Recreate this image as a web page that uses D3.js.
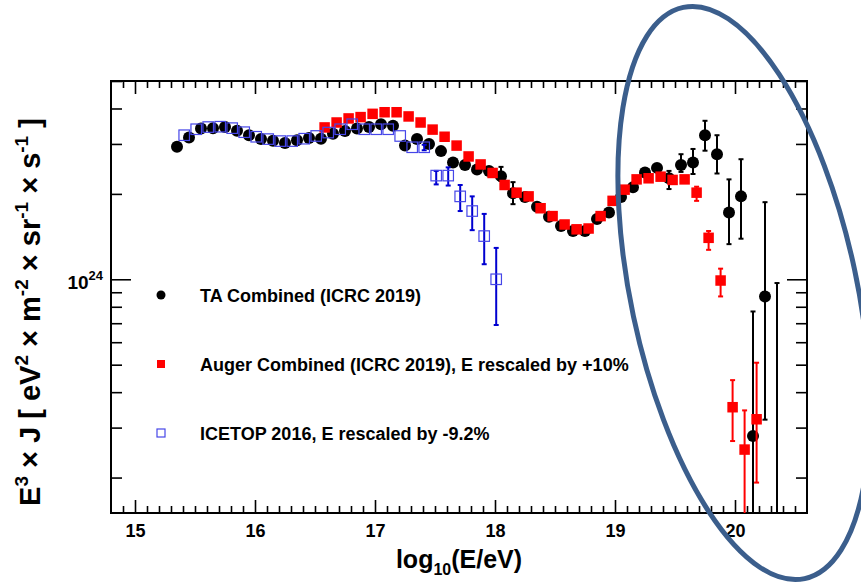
<!DOCTYPE html>
<html lang="en">
<head>
<meta charset="UTF-8">
<title>E3 x J cosmic ray spectrum</title>
<script src="https://d3js.org/d3.v7.min.js"></script>
<style>
    body {
        margin: 0;
        background: #fff;
    }
    svg {
        display: block;
        font-family: "Liberation Sans", Arial, sans-serif;
        font-weight: bold;
    }
</style>
</head>
<body>
<svg id="chart" width="861" height="585"></svg>
<script>
    // values of E^3 x J are in units of 10^24 eV^2 m^-2 sr^-1 s^-1
    const taLogE = [15.35, 15.45, 15.55, 15.65, 15.75, 15.85, 15.95, 16.05, 16.15, 16.25,
        16.35, 16.45, 16.55, 16.65, 16.75, 16.85, 16.95, 17.05, 17.15, 17.25,
        17.35, 17.45, 17.55, 17.65, 17.75, 17.85, 17.95, 18.05, 18.15, 18.25,
        18.35, 18.45, 18.55, 18.65, 18.75, 18.85, 18.95, 19.05, 19.15, 19.25,
        19.35, 19.45, 19.55, 19.65, 19.75, 19.85, 19.95, 20.05, 20.15, 20.25, 20.35];
    const taFlux = [2.93, 3.16, 3.40, 3.41, 3.44, 3.34, 3.22, 3.12, 3.08, 3.02,
        3.09, 3.15, 3.13, 3.26, 3.33, 3.40, 3.44, 3.52, 3.48, 2.96,
        3.12, 3.00, 2.83, 2.58, 2.53, 2.44, 2.41, 2.31, 2.01, 1.95,
        1.80, 1.66, 1.54, 1.48, 1.48, 1.63, 1.72, 1.95, 2.11, 2.38,
        2.47, 2.27, 2.53, 2.58, 3.22, 2.76, 1.72, 1.96, 0.28, 0.87, 0.12];
    // [logE, low, high]
    const taErrors = [
        [18.05, 2.22, 2.49], [18.15, 1.84, 2.20], [19.45, 2.08, 2.41], [19.55, 2.39, 2.76],
        [19.65, 2.35, 2.88], [19.75, 2.84, 3.62], [19.85, 2.36, 3.22], [19.95, 1.33, 2.25],
        [20.05, 1.39, 2.65], [20.15, 0.05, 0.77], [20.25, 0.32, 1.87], [20.35, 0.05, 0.97]
    ];

    const augerLogE = [16.58, 16.68, 16.78, 16.88, 16.98, 17.08, 17.18, 17.28, 17.38, 17.48,
        17.58, 17.68, 17.78, 17.88, 17.98, 18.08, 18.18, 18.28, 18.38, 18.48,
        18.58, 18.68, 18.78, 18.88, 18.98, 19.08, 19.18, 19.28, 19.38, 19.48,
        19.58, 19.68, 19.78, 19.88, 19.98, 20.08, 20.18];
    const augerFlux = [3.43, 3.57, 3.69, 3.73, 3.83, 3.88, 3.88, 3.75, 3.57, 3.37,
        3.18, 2.96, 2.71, 2.54, 2.37, 2.15, 2.02, 1.96, 1.78, 1.67,
        1.56, 1.50, 1.51, 1.67, 1.89, 2.07, 2.25, 2.27, 2.30, 2.24,
        2.25, 2.02, 1.40, 0.99, 0.354, 0.251, 0.321];
    const augerErrors = [
        [19.68, 1.89, 2.12], [19.78, 1.27, 1.48], [19.88, 0.87, 1.09],
        [19.98, 0.269, 0.441], [20.08, 0.05, 0.345], [20.18, 0.192, 0.508]
    ];

    const icetopLogE = [15.41, 15.51, 15.61, 15.71, 15.81, 15.91, 16.01, 16.11, 16.21, 16.31,
        16.41, 16.51, 16.61, 16.71, 16.81, 16.91, 17.01, 17.11, 17.21, 17.31,
        17.41, 17.51, 17.61, 17.71, 17.81, 17.91, 18.01];
    const icetopFlux = [3.22, 3.38, 3.44, 3.45, 3.41, 3.30, 3.18, 3.12, 3.07, 3.07,
        3.13, 3.20, 3.29, 3.38, 3.52, 3.38, 3.38, 3.38, 3.20, 2.92,
        2.92, 2.32, 2.32, 1.96, 1.74, 1.42, 1.00];
    const icetopErrors = [
        [17.41, 2.85, 2.98], [17.51, 2.16, 2.41], [17.61, 2.14, 2.48], [17.71, 1.74, 2.15],
        [17.81, 1.49, 1.96], [17.91, 1.13, 1.70], [18.01, 0.69, 1.29]
    ];

    const xMajorTicks = [15, 16, 17, 18, 19, 20];
    const legendLabels = [
        "TA Combined (ICRC 2019)",
        "Auger Combined (ICRC 2019), E rescaled by +10%",
        "ICETOP 2016, E rescaled by -9.2%"
    ];

    const margin = { top: 81, right: 54, bottom: 72, left: 111 };
    const width = 861 - margin.left - margin.right;
    const height = 585 - margin.top - margin.bottom;

    const svg = d3.select("#chart");
    const chartArea = svg.append("g")
        .attr("transform", `translate(${margin.left},${margin.top})`);

    const x = d3.scaleLinear().domain([14.8, 20.6]).range([0, width]);
    const y = d3.scaleLog().domain([0.15, 5]).range([height, 0]);

    svg.append("defs").append("clipPath").attr("id", "plotClip")
        .append("rect").attr("width", width).attr("height", height);

    // axes: ticks point inward, mirrored on top and right
    const xMinor = d3.range(149, 206).map(d => d / 10).filter(d => !xMajorTicks.includes(d));
    const yMinor = y.ticks().filter(d => Math.abs(d - 1) > 1e-6);

    function styleAxis(g) {
        g.select(".domain").remove();
        g.selectAll("line").attr("stroke", "#000").attr("stroke-width", 1.6);
    }

    chartArea.append("g").attr("transform", `translate(0,${height})`)
        .call(d3.axisBottom(x).tickValues(xMinor).tickSize(-7).tickFormat(""))
        .call(styleAxis);
    chartArea.append("g").attr("transform", `translate(0,${height})`)
        .call(d3.axisBottom(x).tickValues(xMajorTicks).tickSize(-13).tickFormat(d3.format("d")))
        .call(styleAxis)
        .call(g => g.selectAll("text").attr("font-size", 18).attr("font-weight", "bold")
            .attr("font-family", "Liberation Sans, Arial, sans-serif").attr("fill", "#000")
            .attr("y", 11).attr("dy", "0.71em"));
    chartArea.append("g")
        .call(d3.axisTop(x).tickValues(xMinor).tickSize(-7).tickFormat(""))
        .call(styleAxis);
    chartArea.append("g")
        .call(d3.axisTop(x).tickValues(xMajorTicks).tickSize(-13).tickFormat(""))
        .call(styleAxis);

    chartArea.append("g")
        .call(d3.axisLeft(y).tickValues(yMinor).tickSize(-11).tickFormat(""))
        .call(styleAxis);
    chartArea.append("g")
        .call(d3.axisLeft(y).tickValues([1]).tickSize(-20).tickFormat(""))
        .call(styleAxis);
    chartArea.append("g").attr("transform", `translate(${width},0)`)
        .call(d3.axisRight(y).tickValues(yMinor).tickSize(-11).tickFormat(""))
        .call(styleAxis);
    chartArea.append("g").attr("transform", `translate(${width},0)`)
        .call(d3.axisRight(y).tickValues([1]).tickSize(-20).tickFormat(""))
        .call(styleAxis);

    const yLabel10 = chartArea.append("text")
        .attr("x", -8).attr("y", y(1) + 10)
        .attr("text-anchor", "end")
        .attr("font-size", 19);
    yLabel10.append("tspan").text("10");
    yLabel10.append("tspan").attr("font-size", 13).attr("dy", -9).text("24");

    chartArea.append("rect")
        .attr("width", width).attr("height", height)
        .attr("fill", "none").attr("stroke", "#000").attr("stroke-width", 2);

    const plot = chartArea.append("g").attr("clip-path", "url(#plotClip)");

    function drawErrors(rows, color) {
        const g = plot.append("g").attr("stroke", color).attr("stroke-width", 2);
        rows.forEach(([e, lo, hi]) => {
            const cx = x(e);
            g.append("line").attr("x1", cx).attr("x2", cx).attr("y1", y(lo)).attr("y2", y(hi));
            g.append("line").attr("x1", cx - 2.5).attr("x2", cx + 2.5).attr("y1", y(lo)).attr("y2", y(lo));
            g.append("line").attr("x1", cx - 2.5).attr("x2", cx + 2.5).attr("y1", y(hi)).attr("y2", y(hi));
        });
    }

    // TA
    drawErrors(taErrors, "#000");
    plot.append("g").selectAll("circle")
        .data(taLogE.map((e, i) => [e, taFlux[i]]))
        .join("circle")
        .attr("cx", d => x(d[0]))
        .attr("cy", d => y(d[1]))
        .attr("r", 6)
        .attr("fill", "#000");

    // Auger
    drawErrors(augerErrors, "#ff0000");
    const sq = 10.5;
    plot.append("g").selectAll("rect")
        .data(augerLogE.map((e, i) => [e, augerFlux[i]]))
        .join("rect")
        .attr("x", d => x(d[0]) - sq / 2)
        .attr("y", d => y(d[1]) - sq / 2)
        .attr("width", sq).attr("height", sq)
        .attr("fill", "#ff0000");

    // IceTop
    drawErrors(icetopErrors, "#0000d0");
    const osq = 10.5;
    plot.append("g").selectAll("rect")
        .data(icetopLogE.map((e, i) => [e, icetopFlux[i]]))
        .join("rect")
        .attr("x", d => x(d[0]) - osq / 2)
        .attr("y", d => y(d[1]) - osq / 2)
        .attr("width", osq).attr("height", osq)
        .attr("fill", "none")
        .attr("stroke", "#4646e8")
        .attr("stroke-width", 1.2);

    // legend
    const legend = chartArea.append("g").attr("transform", "translate(50,214)");
    legendLabels.forEach((label, i) => {
        const row = legend.append("g").attr("transform", `translate(0,${i * 69})`);
        if (i === 0) {
            row.append("circle").attr("r", 4.5).attr("fill", "#000");
        } else if (i === 1) {
            row.append("rect").attr("x", -4).attr("y", -4).attr("width", 8).attr("height", 8).attr("fill", "#ff0000");
        } else {
            row.append("rect").attr("x", -4).attr("y", -4).attr("width", 8).attr("height", 8)
                .attr("fill", "none").attr("stroke", "#4646e8").attr("stroke-width", 1.2);
        }
        row.append("text").attr("x", 39).attr("y", 7).attr("font-size", 18).text(label);
    });

    // axis titles
    const xTitle = svg.append("text")
        .attr("x", 459).attr("y", 568)
        .attr("text-anchor", "middle")
        .attr("font-size", 25);
    xTitle.append("tspan").text("log");
    xTitle.append("tspan").attr("font-size", 16).attr("dy", 7).text("10");
    xTitle.append("tspan").attr("dy", -7).text("(E/eV)");

    const yTitle = svg.append("text")
        .attr("transform", "translate(40,312) rotate(-90)")
        .attr("text-anchor", "middle")
        .attr("font-size", 29);
    const yParts = [["E", 0], ["3", 1], [" \u00d7 J  [ eV", 0], ["2", 1], [" \u00d7 m", 0], ["-2", 1],
        [" \u00d7 sr", 0], ["-1", 1], [" \u00d7 s", 0], ["-1", 1], [" ]", 0]];
    let raised = false;
    yParts.forEach(([t, sup]) => {
        const ts = yTitle.append("tspan").text(t);
        if (sup) {
            ts.attr("font-size", 19).attr("dy", raised ? 0 : -12);
            raised = true;
        } else {
            if (raised) ts.attr("dy", 12);
            raised = false;
        }
    });

    // hand-drawn highlight ellipse
    svg.append("ellipse")
        .attr("transform", "translate(744,293) rotate(-12)")
        .attr("rx", 113).attr("ry", 292)
        .attr("fill", "none")
        .attr("stroke", "#3b5e8c")
        .attr("stroke-width", 5);
</script>
</body>
</html>
